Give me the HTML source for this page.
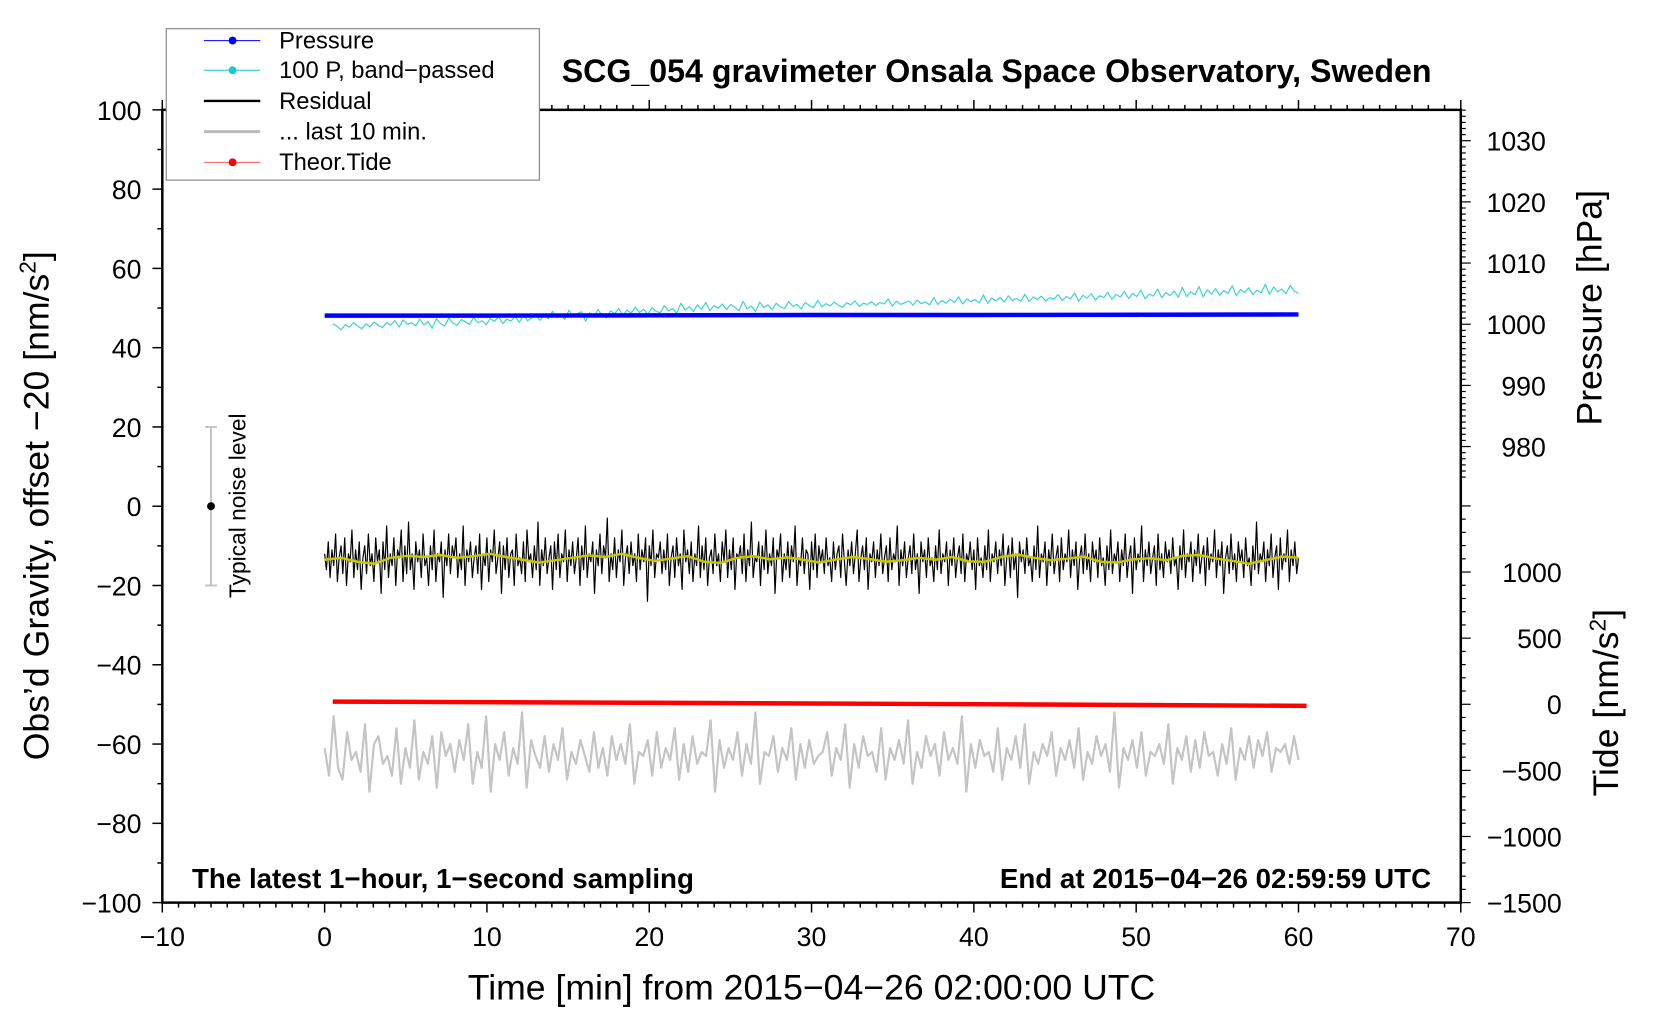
<!DOCTYPE html>
<html><head><meta charset="utf-8"><style>
html,body{margin:0;padding:0;background:#fff}
svg{display:block}
text{font-family:"Liberation Sans",sans-serif;fill:#000}
</style></head><body>
<svg id="chart" width="1660" height="1020" viewBox="0 0 1660 1020" xmlns="http://www.w3.org/2000/svg">
<rect x="0" y="0" width="1660" height="1020" fill="#fff"/>
<g transform="scale(0.9897)">
<g id="ticks"></g>
<g id="marks"></g>
<rect x="164" y="111" width="1312" height="801" fill="none" stroke="#000" stroke-width="2.5"/>
<text x="1007" y="83" font-size="32.5" font-weight="bold" text-anchor="middle">SCG_054 gravimeter Onsala Space Observatory, Sweden</text>
<text x="194" y="897" font-size="28" font-weight="bold">The latest 1−hour, 1−second sampling</text>
<text x="1446" y="897" font-size="28" font-weight="bold" text-anchor="end">End at 2015−04−26 02:59:59 UTC</text>
<text x="820" y="1010" font-size="36" text-anchor="middle">Time [min] from 2015−04−26 02:00:00 UTC</text>
<text transform="translate(49,511) rotate(-90)" font-size="36" text-anchor="middle">Obs’d Gravity, offset −20 [nm/s<tspan font-size="23" dy="-13">2</tspan><tspan dy="13">]</tspan></text>
<text transform="translate(1618,311) rotate(-90)" font-size="36" text-anchor="middle">Pressure [hPa]</text>
<text transform="translate(1635,710) rotate(-90)" font-size="36" text-anchor="middle">Tide [nm/s<tspan font-size="23" dy="-13">2</tspan><tspan dy="13">]</tspan></text>
<g>
<text transform="translate(248,511) rotate(-90)" font-size="23" text-anchor="middle">Typical noise level</text>
</g>
<g>
<rect x="168" y="29" width="377" height="153" fill="#fff" stroke="#888" stroke-width="1.2"/>
<g><line x1="206" y1="41" x2="263" y2="41" stroke="#00f" stroke-width="1"/><circle cx="235" cy="41" r="4" fill="#00f"/><text x="282" y="49" font-size="24">Pressure</text></g>
<g><line x1="206" y1="71" x2="263" y2="71" stroke="#1cc8c8" stroke-width="1"/><circle cx="235" cy="71" r="4" fill="#1cc8c8"/><text x="282" y="79" font-size="24">100 P, band−passed</text></g>
<g><line x1="206" y1="102" x2="263" y2="102" stroke="#000" stroke-width="2.5"/><text x="282" y="110" font-size="24">Residual</text></g>
<g><line x1="206" y1="133" x2="263" y2="133" stroke="#bbb" stroke-width="3"/><text x="282" y="141" font-size="24">... last 10 min.</text></g>
<g><line x1="206" y1="164" x2="263" y2="164" stroke="#f44" stroke-width="1"/><circle cx="235" cy="164" r="4" fill="#f00"/><text x="282" y="172" font-size="24">Theor.Tide</text></g>
</g>
</g>
</svg>
<script>
// ---- data ----
const xTickLabels = [-10,0,10,20,30,40,50,60,70];
const yTickLabels = [100,80,60,40,20,0,-20,-40,-60,-80,-100];
const pTickLabels = [1030,1020,1010,1000,990,980];
const tideTickLabels = [1000,500,0,-500,-1000,-1500];
const pressureTimes = [0,10,20,30,40,50,60];
const pressureValues = [1001.4,1001.4,1001.45,1001.5,1001.5,1001.55,1001.6];
const tideTimes = [0.5,10,20,30,40,50,60.5];
const tideValues = [20,16,11,6,1,-5,-12];
const bandpassed = [46,45.5,44.5,45.8,45.2,46.3,45.5,44.8,46,45.3,46.5,45.6,45.1,46.4,45.7,46.8,45.2,47,45.9,46.3,45.5,47.2,45.8,46.6,44.9,47.3,46.1,45.5,47.5,46.2,45.7,47.1,46.5,45.9,47.6,46.3,46.8,45.8,47.4,46.6,47.8,46.1,47.2,46.7,47.9,46.4,48.3,46.8,47.5,48.1,46.9,48.4,47.3,49.2,47.6,48.3,47.1,49.5,47.8,48.6,49.1,46.7,48.8,47.9,49.6,48.2,47.5,49.3,48.6,49.9,48.1,49.5,48.7,50.2,48.9,49.7,48.4,50.1,49.2,48.8,50.6,49.3,49.9,48.7,51.2,49.5,50.3,49.1,50.8,49.7,51.4,49.4,50.6,50,51,49.6,50.9,50.2,49.3,51.7,49.8,50.5,49.1,51.5,50.1,50.8,49.6,51.2,50.3,49.9,51.6,50.4,50.9,49.8,51.4,50.6,50.1,51.9,50.3,51.1,50.5,51.5,50.7,50.2,51.3,50.8,51.8,50.4,51.2,50.9,51.6,50.6,51.4,51,52.3,50.5,51.7,50.9,51.3,51.8,50.7,52,51.1,51.5,50.8,52.6,50.9,51.9,51.2,52.2,51.4,52.8,51,52.3,51.6,52.1,51.3,53.3,51.2,52.5,51.8,52.7,51.5,53.1,51.9,52.4,51.7,53.5,51.6,52.8,52.1,53,51.8,52.6,52.2,53.4,51.9,52.9,52.3,53.8,51.7,53.2,52.5,53.6,52,53.1,52.6,54,52.2,53.4,52.8,54.2,52.4,53.7,52.9,54.5,52.3,53.5,53,54.8,52.6,53.9,53.1,54.3,52.7,55.2,52.9,54.1,53.3,55.4,52.8,54.6,53.5,54.9,53.2,54.4,53.7,55.6,53.1,54.7,53.9,55.1,53.4,54.5,53.8,56,53.5,55.3,54.1,54.8,53.6,55.7,54.2,53.7];
const residual = [-12,-16,-9,-18,-11,-15,-7,-19,-13,-10,-17,-8,-20,-12,-14,-6,-18,-11,-16,-9,-21,-13,-10,-17,-7,-15,-12,-19,-8,-14,-11,-22,-9,-16,-5,-18,-12,-15,-8,-20,-11,-13,-6,-19,-10,-17,-4,-16,-12,-21,-9,-14,-11,-18,-7,-15,-13,-20,-10,-16,-6,-19,-12,-14,-9,-23,-11,-15,-7,-17,-10,-13,-8,-18,-12,-16,-5,-20,-11,-14,-9,-18,-13,-10,-17,-7,-21,-12,-15,-8,-19,-11,-14,-6,-17,-13,-9,-22,-10,-16,-8,-18,-12,-11,-20,-7,-15,-13,-17,-9,-19,-6,-14,-12,-18,-10,-16,-4,-20,-11,-15,-8,-17,-13,-10,-21,-9,-16,-7,-18,-12,-14,-6,-19,-11,-15,-9,-17,-13,-8,-20,-10,-16,-5,-18,-12,-14,-9,-22,-11,-15,-7,-17,-10,-13,-3,-19,-12,-16,-8,-18,-11,-14,-6,-20,-13,-10,-17,-9,-15,-12,-19,-7,-16,-11,-14,-8,-24,-10,-15,-6,-18,-12,-13,-9,-17,-11,-16,-7,-20,-13,-10,-18,-8,-15,-12,-21,-6,-14,-11,-17,-9,-19,-12,-15,-5,-18,-10,-16,-8,-20,-13,-11,-17,-7,-15,-12,-19,-9,-14,-6,-18,-11,-16,-8,-21,-12,-13,-10,-17,-7,-19,-11,-15,-4,-18,-13,-14,-9,-20,-10,-16,-6,-17,-12,-15,-8,-22,-11,-13,-7,-19,-12,-16,-9,-18,-10,-14,-5,-20,-13,-15,-8,-17,-11,-12,-21,-9,-16,-7,-18,-10,-14,
-11,-17,-8,-15,-13,-19,-9,-16,-12,-10,-18,-7,-14,-20,-11,-15,-9,-17,-12,-6,-19,-13,-10,-16,-8,-21,-12,-14,-9,-18,-11,-15,-7,-17,-13,-10,-19,-8,-16,-12,-14,-5,-20,-11,-15,-9,-18,-13,-10,-17,-7,-16,-12,-22,-9,-14,-11,-18,-8,-15,-13,-19,-10,-16,-6,-17,-12,-14,-9,-20,-11,-15,-8,-18,-13,-10,-17,-7,-19,-12,-14,-9,-16,-11,-21,-8,-15,-13,-18,-10,-16,-6,-19,-12,-14,-9,-17,-11,-15,-7,-20,-13,-10,-18,-8,-16,-12,-23,-9,-14,-11,-17,-8,-15,-13,-19,-10,-16,-5,-18,-12,-14,-9,-20,-11,-15,-7,-17,-13,-10,-19,-8,-16,-12,-14,-6,-18,-11,-15,-9,-21,-13,-10,-17,-7,-16,-12,-19,-9,-14,-11,-18,-8,-15,-13,-20,-10,-16,-6,-17,-12,-14,-9,-19,-11,-15,-7,-18,-13,-10,-22,-8,-16,-12,-14,-5,-19,-11,-15,-9,-17,-13,-10,-20,-7,-16,-12,-18,-9,-14,-11,-17,-8,-15,-13,-21,-10,-16,-6,-18,-12,-14,-9,-19,-11,-15,-7,-17,-13,-10,-20,-8,-16,-12,-14,-6,-18,-11,-15,-9,-22,-13,-10,-17,-7,-16,-12,-19,-9,-14,-11,-18,-8,-15,-13,-20,-10,-16,-4,-17,-12,-14,-9,-19,-11,-15,-7,-18,-13,-10,-21,-8,-16,-12,-14,-6,-19,-11,-15,-9,-17,-13];
const smoothed = [-13.5,-13,-14,-14.5,-13,-12.5,-12.8,-12.3,-13,-12.6,-12,-12.8,-13.5,-14.2,-13.6,-13,-12.4,-12.8,-12,-13,-13.8,-13.2,-12.6,-14,-14.3,-13,-12.6,-13.4,-12.9,-13.5,-14.2,-13.4,-12.8,-13.3,-14,-13.6,-13,-13.5,-12.8,-13.9,-14,-12.8,-12.2,-13,-13.6,-13.2,-12.7,-14,-14.2,-13.4,-13.1,-13.6,-12.5,-12.3,-13.2,-13.8,-14.5,-13.6,-12.7,-13];
const last10 = [-61,-68,-53,-66,-69,-57,-64,-62,-67,-55,-72,-60,-58,-65,-63,-68,-56,-70,-61,-66,-54,-69,-62,-65,-58,-71,-57,-63,-60,-67,-59,-64,-55,-70,-62,-66,-53,-72,-60,-64,-57,-68,-61,-65,-52,-71,-59,-63,-66,-58,-67,-60,-64,-56,-69,-62,-65,-59,-63,-67,-57,-66,-61,-68,-58,-64,-60,-65,-55,-70,-62,-63,-59,-68,-57,-66,-61,-64,-56,-69,-60,-67,-58,-65,-62,-63,-54,-72,-59,-66,-61,-64,-57,-68,-60,-65,-52,-70,-62,-63,-58,-67,-61,-64,-56,-69,-60,-66,-59,-65,-63,-62,-57,-68,-61,-64,-55,-71,-60,-66,-58,-63,-62,-67,-56,-69,-61,-64,-59,-65,-54,-70,-62,-66,-58,-63,-60,-68,-57,-64,-61,-65,-53,-72,-60,-66,-59,-63,-62,-67,-56,-69,-61,-64,-58,-66,-55,-70,-62,-65,-60,-63,-57,-68,-61,-64,-59,-66,-56,-69,-62,-65,-58,-63,-60,-67,-52,-71,-61,-64,-59,-66,-57,-68,-62,-63,-60,-65,-55,-70,-61,-64,-58,-67,-59,-66,-57,-63,-62,-68,-60,-65,-56,-69,-61,-64,-58,-66,-59,-63,-57,-67,-61,-62,-60,-65,-58,-64];
// ---- scales ----
function xS(t){return 164 + (t+10)*16.4;}
function yS(v){return 111 + (100-v)*4.005;}
function pS(p){return 327.6 - (p-1000)*6.18;}
function tS(v){return 711.6 - v*0.1336;}
const NS='http://www.w3.org/2000/svg';
const ticks=document.getElementById('ticks'), marks=document.getElementById('marks');
function mk(tag,attrs,parent){const e=document.createElementNS(NS,tag);for(const k in attrs)e.setAttribute(k,attrs[k]);(parent||marks).appendChild(e);return e;}
function tick(x1,y1,x2,y2,w){return mk('line',{x1:x1,y1:y1,x2:x2,y2:y2,stroke:'#000','stroke-width':w||1.5},ticks);}
for(let t=-10;t<=70;t++){const x=xS(t);const L=(t%10===0)?10:5;tick(x,912,x,912+L);tick(x,111,x,111-L);}
xTickLabels.forEach(v=>{const e=mk('text',{x:xS(v),y:956,'font-size':27,'text-anchor':'middle'},ticks);e.textContent=String(v).replace('-','−');

});
for(let v=-100;v<=100;v+=10){const y=yS(v);tick(164,y,164-(v%20===0?10:5),y);}
yTickLabels.forEach(v=>{const e=mk('text',{x:143,y:yS(v)+10,'font-size':27,'text-anchor':'end'},ticks);e.textContent=String(v).replace('-','−');

});
for(let p=975;p<=1035;p++){const y=pS(p);tick(1476,y,1476+(p%10===0?10:5),y,1.2);}
pTickLabels.forEach(v=>{const e=mk('text',{x:1562,y:pS(v)+10,'font-size':27,'text-anchor':'end'},ticks);e.textContent=String(v);

});
for(let v=-1500;v<=1500;v+=100){const y=tS(v);tick(1476,y,1476+(v%500===0?10:5),y,1.2);}
tideTickLabels.forEach(v=>{const e=mk('text',{x:1578,y:tS(v)+10,'font-size':27,'text-anchor':'end'},ticks);e.textContent=String(v).replace('-','−');

});
function poly(vals,t0,t1,yf,stroke,w,name){const n=vals.length;const pts=vals.map((v,i)=>xS(t0+(t1-t0)*i/(n-1)).toFixed(1)+','+yf(v).toFixed(1)).join(' ');
const e=mk('polyline',{points:pts,fill:'none',stroke:stroke,'stroke-width':w,'stroke-linejoin':'round'});

return e;}
function polyXY(ts,vals,yf,stroke,w,name){const pts=vals.map((v,i)=>xS(ts[i]).toFixed(1)+','+yf(v).toFixed(1)).join(' ');
const e=mk('polyline',{points:pts,fill:'none',stroke:stroke,'stroke-width':w});

return e;}
poly(last10,0,60,yS,'#c4c4c4',2.2,'last-10-min-line');
poly(bandpassed,0.5,60,yS,'#3cd2d2',1.2,'bandpassed-pressure-line');
polyXY(pressureTimes,pressureValues,pS,'#0000ff',4.5,'pressure-line');
poly(residual,0,60,yS,'#000',1.2,'residual-line');
poly(smoothed,0,60,yS,'#c8c800',2.5,'residual-smoothed-line');
polyXY(tideTimes,tideValues,tS,'#ff0000',4.5,'theoretical-tide-line');
const nx=xS(-7);
const nb=mk('g',{});


mk('line',{x1:nx,y1:yS(20),x2:nx,y2:yS(-20),stroke:'#c4c4c4','stroke-width':2},nb);
mk('line',{x1:nx-6,y1:yS(20),x2:nx+6,y2:yS(20),stroke:'#c4c4c4','stroke-width':2},nb);
mk('line',{x1:nx-6,y1:yS(-20),x2:nx+6,y2:yS(-20),stroke:'#c4c4c4','stroke-width':2},nb);
mk('circle',{cx:nx,cy:yS(0),r:4,fill:'#000'},nb);
</script>
</body></html>
